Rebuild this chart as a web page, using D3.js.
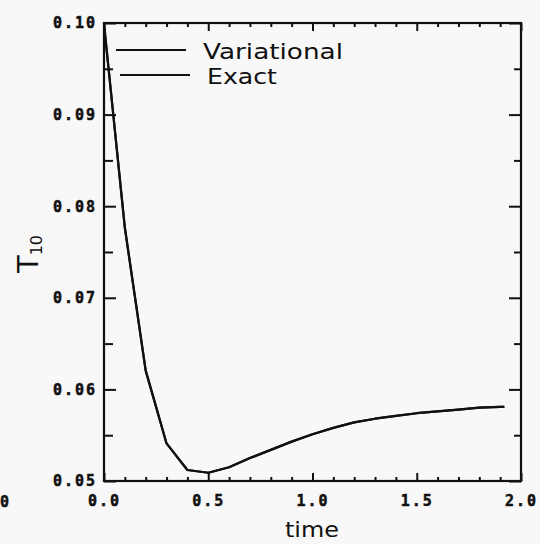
<!DOCTYPE html>
<html>
<head>
<meta charset="utf-8">
<script src="https://cdn.jsdelivr.net/npm/d3@7"></script>
<style>
  html, body { margin: 0; padding: 0; background: #f8f8f8; }
  svg { display: block; }
</style>
</head>
<body>
<svg id="chart" width="540" height="544"></svg>
<script>
// Sampled times and T10 values for the two solutions
const time = [0.0, 0.1, 0.2, 0.3, 0.4, 0.5, 0.6, 0.7, 0.8, 0.9, 1.0,
              1.1, 1.2, 1.3, 1.4, 1.5, 1.6, 1.7, 1.8, 1.9, 1.92];
const variational = [0.0998, 0.0777, 0.0621, 0.0541, 0.0512, 0.0509, 0.0515, 0.0525, 0.0534, 0.0543, 0.0551,
                     0.0558, 0.0564, 0.0568, 0.0571, 0.0574, 0.0576, 0.0578, 0.0580, 0.0581, 0.0581];
const exact = [0.1000, 0.0776, 0.0620, 0.0541, 0.0512, 0.0509, 0.0515, 0.0525, 0.0534, 0.0543, 0.0551,
               0.0558, 0.0564, 0.0568, 0.0571, 0.0574, 0.0576, 0.0578, 0.0580, 0.0581, 0.0581];
const seriesNames = ["Variational", "Exact"];

const xMajor = [0.0, 0.5, 1.0, 1.5, 2.0];
const xMinor = [0.1, 0.2, 0.3, 0.4, 0.6, 0.7, 0.8, 0.9, 1.1, 1.2, 1.3, 1.4, 1.6, 1.7, 1.8, 1.9];
const yMajor = [0.05, 0.06, 0.07, 0.08, 0.09, 0.10];
const yMinor = [0.055, 0.065, 0.075, 0.085, 0.095];

const svg = d3.select("#chart");
const plotL = 104, plotR = 521, plotT = 23, plotB = 481;

const x = d3.scaleLinear().domain([0, 2]).range([plotL, plotR]);
const y = d3.scaleLinear().domain([0.05, 0.10]).range([plotB, plotT]);

const tickFont = "bold 15px 'DejaVu Sans Mono', monospace";

function styleAxis(g) {
  g.select(".domain").remove();
  g.selectAll("line").attr("stroke", "#111").attr("stroke-width", 2);
  g.selectAll("text")
    .attr("fill", "#111")
    .attr("stroke", "#111")
    .attr("stroke-width", 0.5)
    .style("font", tickFont)
    .style("letter-spacing", "2px");
}

// bottom axis with labels
svg.append("g").attr("transform", `translate(0,${plotB})`)
  .call(d3.axisBottom(x).tickValues(xMajor).tickSize(-8).tickPadding(14).tickFormat(d3.format(".1f")))
  .call(styleAxis);
svg.append("g").attr("transform", `translate(0,${plotB})`)
  .call(d3.axisBottom(x).tickValues(xMinor).tickSize(-4).tickFormat(""))
  .call(styleAxis);
// top axis
svg.append("g").attr("transform", `translate(0,${plotT})`)
  .call(d3.axisTop(x).tickValues(xMajor).tickSize(-8).tickFormat(""))
  .call(styleAxis);
svg.append("g").attr("transform", `translate(0,${plotT})`)
  .call(d3.axisTop(x).tickValues(xMinor).tickSize(-4).tickFormat(""))
  .call(styleAxis);
// left axis with labels
svg.append("g").attr("transform", `translate(${plotL},0)`)
  .call(d3.axisLeft(y).tickValues(yMajor).tickSize(-12).tickPadding(7).tickFormat(d3.format(".2f")))
  .call(styleAxis);
svg.append("g").attr("transform", `translate(${plotL},0)`)
  .call(d3.axisLeft(y).tickValues(yMinor).tickSize(-9).tickFormat(""))
  .call(styleAxis);
// right axis
svg.append("g").attr("transform", `translate(${plotR},0)`)
  .call(d3.axisRight(y).tickValues(yMajor).tickSize(-12).tickFormat(""))
  .call(styleAxis);
svg.append("g").attr("transform", `translate(${plotR},0)`)
  .call(d3.axisRight(y).tickValues(yMinor).tickSize(-7).tickFormat(""))
  .call(styleAxis);

// plot frame
svg.append("rect")
  .attr("x", plotL).attr("y", plotT)
  .attr("width", plotR - plotL).attr("height", plotB - plotT)
  .attr("fill", "none").attr("stroke", "#111").attr("stroke-width", 2.2);

// curves
const line = d3.line().x((d, i) => x(time[i])).y(d => y(d));
[variational, exact].forEach(vals => {
  svg.append("path")
    .datum(vals)
    .attr("d", line)
    .attr("fill", "none")
    .attr("stroke", "#111")
    .attr("stroke-width", 2.2)
    .attr("stroke-linejoin", "round");
});

// legend
const legendFont = "21px 'DejaVu Sans', sans-serif";
const legendRows = [
  { name: seriesNames[0], x1: 116, x2: 186, ly: 50, tx: 203, base: 58.5, w: 140 },
  { name: seriesNames[1], x1: 120, x2: 190, ly: 75, tx: 207, base: 84, w: 70 }
];
legendRows.forEach(r => {
  svg.append("line")
    .attr("x1", r.x1).attr("x2", r.x2).attr("y1", r.ly).attr("y2", r.ly)
    .attr("stroke", "#111").attr("stroke-width", 2.2);
  svg.append("text")
    .attr("x", r.tx).attr("y", r.base)
    .attr("textLength", r.w)
    .attr("lengthAdjust", "spacingAndGlyphs")
    .style("font", legendFont)
    .attr("fill", "#111")
    .text(r.name);
});

// axis titles
svg.append("text")
  .attr("x", 312).attr("y", 537)
  .attr("text-anchor", "middle")
  .attr("textLength", 54)
  .attr("lengthAdjust", "spacingAndGlyphs")
  .style("font", "22px 'DejaVu Sans', sans-serif")
  .attr("fill", "#111")
  .text("time");

const yTitle = svg.append("text")
  .attr("transform", "translate(38,254) rotate(-90)")
  .attr("text-anchor", "middle")
  .style("font", "29px 'DejaVu Sans', sans-serif")
  .attr("fill", "#111");
yTitle.append("tspan").text("T");
yTitle.append("tspan").attr("dy", 4).style("font-size", "16px").text("10");

// stray label at the left edge
svg.append("text")
  .attr("x", 0).attr("y", 507)
  .style("font", tickFont)
  .attr("fill", "#111")
  .attr("stroke", "#111")
  .attr("stroke-width", 0.5)
  .text("0");
</script>
</body>
</html>
